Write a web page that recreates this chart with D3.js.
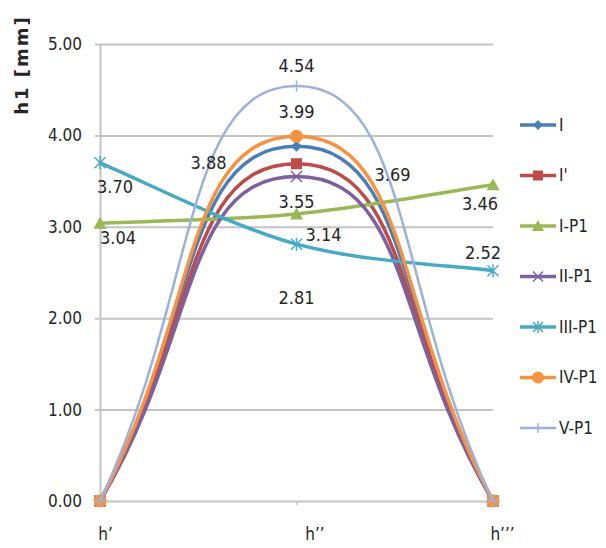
<!DOCTYPE html>
<html>
<head>
<meta charset="utf-8">
<script src="https://cdn.jsdelivr.net/npm/d3@7"></script>
<style>
  html, body { margin: 0; padding: 0; background: #fff; }
  svg text { font-family: "Liberation Sans Narrow", "DejaVu Sans Condensed", "Noto Sans", sans-serif; fill: #262626; }
</style>
</head>
<body>
<div id="chart"></div>
<script>
// categories and values
const categories = ["h’", "h’’", "h’’’"];
const seriesNames = ["I", "I'", "I-P1", "II-P1", "III-P1", "IV-P1", "V-P1"];
const valuesI = [0, 3.88, 0];
const valuesI2 = [0, 3.69, 0];
const valuesIP1 = [3.04, 3.14, 3.46];
const valuesIIP1 = [0, 3.55, 0];
const valuesIIIP1 = [3.70, 2.81, 2.52];
const valuesIVP1 = [0, 3.99, 0];
const valuesVP1 = [0, 4.54, 0];
const yTicks = [0, 1, 2, 3, 4, 5];

const allValues = [valuesI, valuesI2, valuesIP1, valuesIIP1, valuesIIIP1, valuesIVP1, valuesVP1];

// styling
const colors = ["#4A7EBB", "#BE4B48", "#98B954", "#7D60A0", "#46AAC5", "#F69240", "#9DB1DC"];
const symbols = ["diamond", "square", "triangle", "x", "star", "circle", "plus"];
const strokeW = [3.5, 3.5, 3.5, 3.5, 3.5, 3.5, 2.5];
// smoothing handle factors per series (inner points / end points), Excel-like
const smoothK = [0.29, 0.29, 1 / 6, 0.29, 1 / 6, 0.29, 0.29];
const smoothKEnd = [0.5, 0.5, 0.2, 0.5, 0.2, 0.5, 0.5];

// label offsets [dx, dy] per series per point (null = no label)
const labelPos = [
  [null, [-88, 23], null],
  [null, [96, 17], null],
  [[18, 21], [27, 27], [-13, 25]],
  [null, [0, 31], null],
  [[15, 30], [0, 60], [-10, -12]],
  [null, [0, -18], null],
  [null, [0, -14], null]
];
const xLabelDx = [5, 18, 9];

const W = 606, H = 548;
const margin = { top: 44, left: 100, right: 113, bottom: 47 };

// cardinal-like curve; end handles point along the first/last chord
function curveSmooth(k, kEnd) {
  return function (context) {
    let pts = [];
    return {
      areaStart() {}, areaEnd() {},
      lineStart() { pts = []; },
      point(px, py) { pts.push([+px, +py]); },
      lineEnd() {
        if (!pts.length) return;
        context.moveTo(pts[0][0], pts[0][1]);
        for (let i = 0; i < pts.length - 1; i++) {
          const p1 = pts[i], p2 = pts[i + 1];
          const p0 = pts[i - 1] || p1, p3 = pts[i + 2] || p2;
          const ka = pts[i - 1] ? k : kEnd, kb = pts[i + 2] ? k : kEnd;
          context.bezierCurveTo(
            p1[0] + ka * (p2[0] - p0[0]), p1[1] + ka * (p2[1] - p0[1]),
            p2[0] - kb * (p3[0] - p1[0]), p2[1] - kb * (p3[1] - p1[1]),
            p2[0], p2[1]);
        }
      }
    };
  };
}

const svg = d3.select('#chart')
  .append('svg')
  .attr('width', W)
  .attr('height', H);

const x = d3.scalePoint()
  .domain(categories)
  .range([margin.left, W - margin.right]);

const y = d3.scaleLinear()
  .domain([0, 5])
  .range([H - margin.bottom, margin.top]);

// gridlines
svg.append('g')
  .attr('transform', `translate(${margin.left},0)`)
  .call(d3.axisLeft(y).tickValues(yTicks).tickSize(-(W - margin.right - margin.left)).tickFormat(''))
  .call(g => g.select('.domain').remove())
  .selectAll('line')
  .attr('stroke', '#C4C4C4')
  .attr('stroke-width', 2);

// y axis
const yAxis = svg.append('g')
  .attr('transform', `translate(${margin.left},0)`)
  .call(d3.axisLeft(y).tickValues(yTicks).tickFormat(d3.format('.2f')).tickSize(5).tickPadding(13).tickSizeOuter(0));
yAxis.select('.domain').attr('stroke', '#C4C4C4').attr('stroke-width', 2);
yAxis.selectAll('line').attr('stroke', '#C4C4C4').attr('stroke-width', 2);
yAxis.selectAll('text').attr('font-size', '17px');

// x axis
const xAxis = svg.append('g')
  .attr('transform', `translate(0,${y(0)})`)
  .call(d3.axisBottom(x).tickSize(4).tickPadding(0).tickSizeOuter(0));
xAxis.select('.domain').remove();
xAxis.selectAll('line').attr('stroke', '#C4C4C4').attr('stroke-width', 1.5);
xAxis.selectAll('text')
  .attr('font-size', '17px')
  .attr('y', 39)
  .attr('dy', 0)
  .attr('dx', (d, i) => xLabelDx[i]);

// axis title
svg.append('text')
  .attr('transform', 'translate(28,65)rotate(-90)')
  .attr('text-anchor', 'middle')
  .attr('font-size', '18px')
  .attr('font-weight', 'bold')
  .attr('letter-spacing', '2px')
  .style('font-family', '"DejaVu Sans", sans-serif')
  .text('h1 [mm]');

// marker shapes
function marker(g, type, color, size) {
  const s = size / 2;
  if (type === 'diamond') {
    g.append('path').attr('d', `M0,${-s}L${s},0L0,${s}L${-s},0Z`).attr('fill', color);
  } else if (type === 'square') {
    g.append('rect').attr('x', -s).attr('y', -s).attr('width', size).attr('height', size).attr('fill', color);
  } else if (type === 'triangle') {
    g.append('path').attr('d', `M0,${-s - 1}L${s + 1},${s}L${-s - 1},${s}Z`).attr('fill', color);
  } else if (type === 'circle') {
    g.append('circle').attr('r', s + 1).attr('fill', color);
  } else if (type === 'x') {
    g.append('path').attr('d', `M${-s},${-s}L${s},${s}M${-s},${s}L${s},${-s}`).attr('stroke', color).attr('stroke-width', 1.5);
  } else if (type === 'star') {
    g.append('path').attr('d', `M${-s},${-s}L${s},${s}M${-s},${s}L${s},${-s}M0,${-s - 1}L0,${s + 1}`).attr('stroke', color).attr('stroke-width', 1.5);
  } else if (type === 'plus') {
    g.append('path').attr('d', `M${-s},0L${s},0M0,${-s}L0,${s}`).attr('stroke', color).attr('stroke-width', 1.5);
  }
}

// series
allValues.forEach((vals, si) => {
  const line = d3.line()
    .x((d, i) => x(categories[i]))
    .y(d => y(d))
    .curve(curveSmooth(smoothK[si], smoothKEnd[si]));
  const g = svg.append('g');
  g.append('path')
    .datum(vals)
    .attr('d', line)
    .attr('fill', 'none')
    .attr('stroke', colors[si])
    .attr('stroke-width', strokeW[si]);
  g.selectAll('g.pt')
    .data(vals)
    .enter()
    .append('g')
    .attr('class', 'pt')
    .attr('transform', (d, i) => `translate(${x(categories[i])},${y(d)})`)
    .each(function () { marker(d3.select(this), symbols[si], colors[si], 11); });
});

// data labels
allValues.forEach((vals, si) => {
  vals.forEach((v, i) => {
    const p = labelPos[si][i];
    if (!p) return;
    svg.append('text')
      .attr('x', x(categories[i]) + p[0])
      .attr('y', y(v) + p[1])
      .attr('text-anchor', 'middle')
      .attr('font-size', '18px')
      .text(d3.format('.2f')(v));
  });
});

// legend
const legend = svg.append('g')
  .selectAll('g')
  .data(seriesNames)
  .enter()
  .append('g')
  .attr('transform', (d, i) => `translate(520,${125 + i * 50.5})`);

legend.append('line')
  .attr('x1', 0).attr('x2', 36)
  .attr('stroke', (d, i) => colors[i])
  .attr('stroke-width', (d, i) => strokeW[i]);

legend.each(function (d, i) {
  const m = d3.select(this).append('g').attr('transform', 'translate(18,0)');
  marker(m, symbols[i], colors[i], 10);
});

legend.append('text')
  .attr('x', 39)
  .attr('dy', '0.35em')
  .attr('font-size', '17px')
  .text(d => d);
</script>
</body>
</html>
